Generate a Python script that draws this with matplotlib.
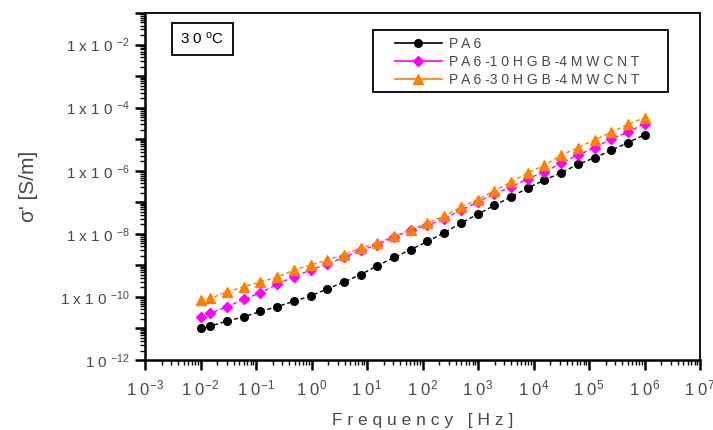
import numpy as np
import matplotlib
matplotlib.use("Agg")
import matplotlib.pyplot as plt
from matplotlib.patches import Rectangle
from matplotlib.ticker import LogLocator, FixedLocator, FixedFormatter, NullFormatter

plt.rcParams['font.family'] = ['Liberation Sans', 'DejaVu Sans']
plt.rcParams['mathtext.fontset'] = 'custom'
plt.rcParams['mathtext.rm'] = 'Liberation Sans'
plt.rcParams['mathtext.it'] = 'Liberation Sans'

# Frequency sweep [Hz]
freq = [1e-2, 1.5e-2, 3e-2, 6e-2, 1.2e-1, 2.4e-1, 4.8e-1, 9.6e-1,
        1.9, 3.8, 7.7, 15, 31, 61, 123, 246, 491, 983,
        1970, 3930, 7860, 15700, 31500, 62900, 126000, 252000, 503000, 1.0e6]

# AC conductivity sigma' [S/m]
sigma_pa6 = [1.0e-11, 1.2e-11, 1.7e-11, 2.34e-11, 3.47e-11, 4.9e-11, 7.24e-11,
             1.07e-10, 1.78e-10, 2.95e-10, 5.13e-10, 9.55e-10, 1.78e-9, 3.16e-9,
             5.75e-9, 1.07e-8, 2.19e-8, 4.17e-8, 7.94e-8, 1.48e-7, 2.82e-7,
             5.01e-7, 8.71e-7, 1.58e-6, 2.57e-6, 4.47e-6, 7.76e-6, 1.38e-5]
sigma_10hgb = [2.34e-11, 3.02e-11, 4.9e-11, 8.32e-11, 1.35e-10, 2.51e-10, 4.37e-10,
               7.08e-10, 1.1e-9, 1.78e-9, 3.02e-9, 4.37e-9, 7.94e-9, 1.29e-8,
               1.86e-8, 3.02e-8, 5.62e-8, 1.02e-7, 1.86e-7, 3.02e-7, 5.62e-7,
               9.12e-7, 1.74e-6, 3.09e-6, 5.37e-6, 1.02e-5, 1.66e-5, 3.09e-5]
sigma_30hgb = [7.94e-11, 8.91e-11, 1.45e-10, 2.09e-10, 3.02e-10, 4.17e-10, 7.08e-10,
               1.02e-9, 1.45e-9, 2.19e-9, 3.55e-9, 5.13e-9, 8.32e-9, 1.35e-8,
               2.19e-8, 3.63e-8, 7.08e-8, 1.2e-7, 2.34e-7, 4.37e-7, 8.51e-7,
               1.48e-6, 3.09e-6, 5.37e-6, 9.55e-6, 1.66e-5, 2.95e-5, 4.79e-5]

series_labels = ["P A 6", "P A 6 -1 0 H G B -4 M W C N T", "P A 6 -3 0 H G B -4 M W C N T"]

x_exps = list(range(-3, 8))
y_exps = list(range(-12, 0))
y_labelled = [-12, -10, -8, -6, -4, -2]

txt_gray = '#484848'

fig = plt.figure(figsize=(7.13, 4.30), dpi=100)
ax = fig.add_axes([145 / 713, 1 - 360 / 430, 555 / 713, 347 / 430])

styles = [
    dict(color='black', marker='o', ms=5.5),
    dict(color='#ff00ff', marker='D', ms=5.0),
    dict(color='#ff8000', marker='^', ms=7.0),
]
handles = []
for ys, st, lab in zip([sigma_pa6, sigma_10hgb, sigma_30hgb], styles, series_labels):
    ax.plot(freq, ys, linestyle=(0, (3, 2)), lw=1.0, color=st['color'],
            marker=st['marker'], ms=st['ms'], mfc=st['color'], mec=st['color'])
    h, = ax.plot([], [], '-', lw=1.2, color=st['color'], marker=st['marker'],
                 ms=st['ms'], mfc=st['color'], mec=st['color'], label=lab)
    handles.append(h)

ax.set_xscale('log')
ax.set_yscale('log')
ax.set_xlim(1e-3, 1e7)
ax.set_ylim(1e-12, 1e-1)

# x ticks: one per decade
ax.xaxis.set_major_locator(FixedLocator([10.0 ** e for e in x_exps]))
ax.xaxis.set_major_formatter(FixedFormatter(
    [r'1 0$^{\mathregular{%d}}$' % e for e in x_exps]))
ax.xaxis.set_minor_locator(LogLocator(base=10, subs=np.arange(2, 10), numticks=20))
ax.xaxis.set_minor_formatter(NullFormatter())

# y ticks: every decade, labels on even decades
ax.yaxis.set_major_locator(FixedLocator([10.0 ** e for e in y_exps]))
ylabs = []
for e in y_exps:
    if e == -12:
        ylabs.append(r'1 0 $^{\mathregular{%d}}$' % e)
    elif e in y_labelled:
        ylabs.append(r'1 x 1 0 $^{\mathregular{%d}}$' % e)
    else:
        ylabs.append('')
ax.yaxis.set_major_formatter(FixedFormatter(ylabs))
ax.yaxis.set_minor_locator(LogLocator(base=10, subs=np.arange(2, 10), numticks=20))
ax.yaxis.set_minor_formatter(NullFormatter())

ax.tick_params(which='major', direction='out', length=7, width=1.8,
               labelsize=11, labelcolor=txt_gray, pad=4)
ax.tick_params(axis='x', which='major', labelsize=12, pad=6)
ax.tick_params(which='minor', direction='out', length=3.5, width=1.0)

for sp in ax.spines.values():
    sp.set_linewidth(1.3)
ax.spines['left'].set_linewidth(1.8)
ax.spines['bottom'].set_linewidth(1.8)

ax.set_xlabel('F r e q u e n c y   [ H z ]', fontsize=12.5, color=txt_gray, labelpad=11)
ax.set_ylabel("σ' [S/m]", fontsize=15, color=txt_gray, labelpad=16)

ax.text(0.103, 0.925, r'3 0 $^{\mathregular{o}}$C', transform=ax.transAxes,
        fontsize=11, color='black', ha='center', va='center',
        bbox=dict(boxstyle='square,pad=0.55', fc='white', ec='black', lw=1.3))

# legend without its own frame; box drawn separately
leg = ax.legend(handles=handles, loc='upper left', bbox_to_anchor=(0.441, 0.945),
                fontsize=10, frameon=False, handlelength=3.4, handletextpad=0.5,
                borderpad=0.35, labelspacing=0.28, borderaxespad=0)
for t in leg.get_texts():
    t.set_color(txt_gray)
ax.add_patch(Rectangle(((373 - 145) / 555, (360 - 92) / 347), 295 / 555, 62 / 347,
                       transform=ax.transAxes, fill=False, ec='black', lw=1.3,
                       zorder=5))

fig.savefig('out.png', dpi=100)
